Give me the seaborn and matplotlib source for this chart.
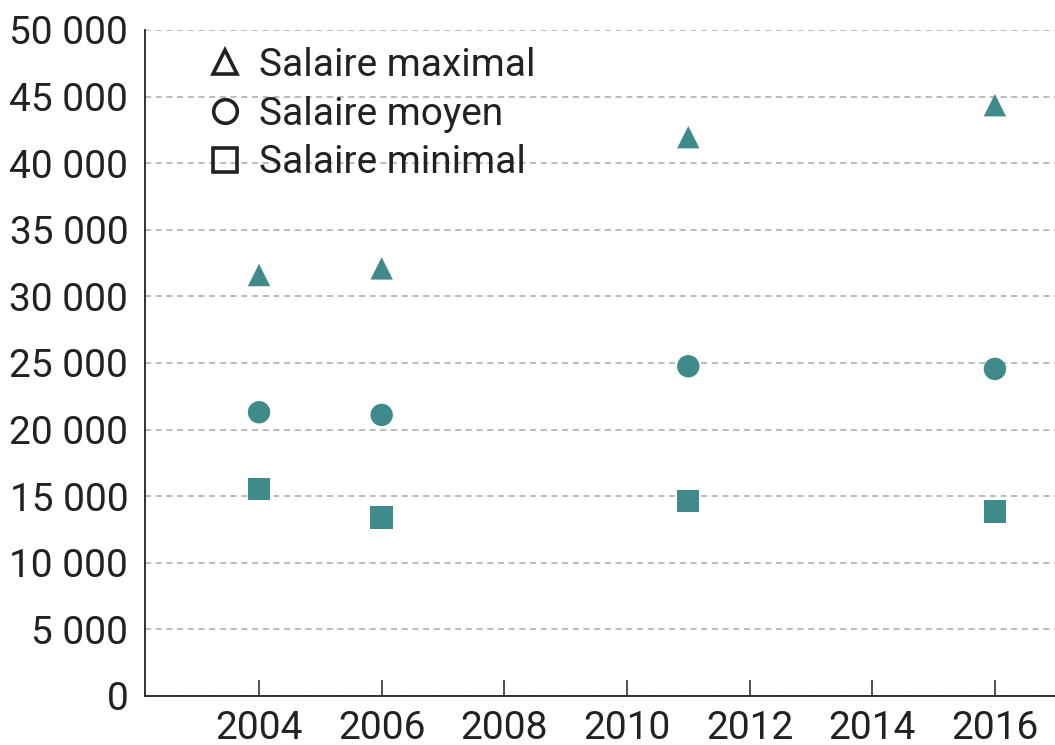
import pandas as pd
import seaborn as sns
import matplotlib.pyplot as plt
from matplotlib.lines import Line2D
from matplotlib.ticker import FuncFormatter

# values
years = [2004, 2006, 2011, 2016]
salaire_max = [31600, 32100, 41950, 44350]
salaire_moyen = [21300, 21100, 24750, 24550]
salaire_min = [15550, 13400, 14650, 13850]
series = ["Salaire maximal", "Salaire moyen", "Salaire minimal"]
x_ticks = [2004, 2006, 2008, 2010, 2012, 2014, 2016]
y_ticks = list(range(0, 50001, 5000))

df = pd.DataFrame({
    "annee": years * 3,
    "salaire": salaire_max + salaire_moyen + salaire_min,
    "serie": [series[0]] * 4 + [series[1]] * 4 + [series[2]] * 4,
})

sns.set_theme(style="white")
plt.rcParams["font.family"] = ["Roboto", "DejaVu Sans"]

teal = "#3f8a8a"
markers = {"Salaire maximal": "^", "Salaire moyen": "o", "Salaire minimal": "s"}

fig = plt.figure(figsize=(10.55, 7.45), dpi=100)
ax = fig.add_axes([0.1374, 0.0658, 0.8626, 0.894])

sns.scatterplot(data=df, x="annee", y="salaire", style="serie", markers=markers,
                color=teal, s=260, edgecolor="none", legend=False, ax=ax, zorder=3)

ax.set_xlim(2002.14, 2016.98)
ax.set_ylim(0, 50000)
ax.set_xticks(x_ticks)
ax.set_yticks(y_ticks)
ax.yaxis.set_major_formatter(FuncFormatter(lambda v, p: f"{int(v):,}".replace(",", " ")))
ax.set_xlabel("")
ax.set_ylabel("")

ax.grid(axis="y", color="#aaaaaa", linestyle=(0, (4, 3)), linewidth=1.1)
ax.set_axisbelow(True)
for side in ["top", "right"]:
    ax.spines[side].set_visible(False)
for side in ["left", "bottom"]:
    ax.spines[side].set_color("#222222")
    ax.spines[side].set_linewidth(1.3)

ax.tick_params(axis="x", bottom=True, direction="in", length=11.5, width=1.1, color="#222222",
               labelsize=28, pad=10, labelcolor="#222222")
ax.tick_params(axis="y", left=False, length=0, labelsize=28, pad=12, labelcolor="#222222")

handles = [Line2D([], [], linestyle="none", marker=markers[s], markersize=17,
                  markerfacecolor="none", markeredgecolor="#222222", markeredgewidth=2.6)
           for s in series]
ax.legend(handles, series, loc="upper left", bbox_to_anchor=(0.05, 0.998), frameon=False,
          fontsize=28, handlelength=1.0, handletextpad=0.37, labelspacing=0.3,
          borderaxespad=0, labelcolor="#222222")

fig.savefig("out.png", dpi=100)
